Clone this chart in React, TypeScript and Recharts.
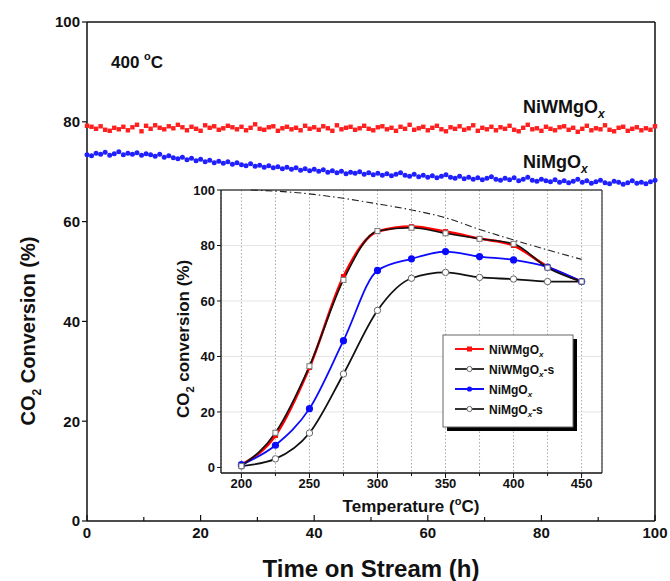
import React from 'react';
import { ComposedChart, Line, XAxis, YAxis, ReferenceLine, CartesianGrid } from 'recharts';

const FONT = '"Liberation Sans", Arial, Helvetica, sans-serif';

// main panel: conversion vs time on stream at 400 C (one point every STEP hours)
const STEP = 0.8;
const niwmgoStream = [
  79.2, 79.0, 78.6, 79.1, 78.4, 78.2, 78.8, 78.5, 79.0, 78.3,
  78.9, 79.4, 78.1, 79.2, 78.6, 79.3, 78.8, 78.5, 79.1, 78.7,
  79.4, 78.9, 78.3, 79.0, 78.6, 78.2, 79.3, 78.8, 79.1, 78.4,
  78.7, 79.2, 78.9, 78.5, 79.0, 78.3, 78.8, 79.5, 78.6, 78.4,
  78.9, 79.1, 78.2, 78.7, 79.0, 78.5, 78.8, 78.3, 79.2, 78.6,
  78.9, 78.4, 79.1, 78.7, 78.2, 79.3, 78.5, 78.8, 79.0, 78.4,
  78.7, 79.2, 78.6, 78.3, 78.9, 79.1, 78.5, 78.8, 78.2, 79.0,
  78.6, 79.4, 78.4, 78.7, 79.0, 78.3, 78.8, 79.2, 78.5, 78.1,
  78.9, 78.6, 79.1, 78.4, 78.7, 79.3, 78.2, 78.8, 78.5, 79.0,
  78.3, 78.9, 78.6, 79.2, 78.4, 78.1, 78.8, 79.4, 78.5, 78.7,
  78.2, 79.0, 78.6, 78.3, 78.9, 79.1, 78.4, 78.8, 78.0, 78.6,
  79.2, 78.3, 78.7, 78.5, 79.3, 78.4, 78.1, 78.8, 79.0, 78.2,
  78.6, 78.9, 78.3, 78.7, 78.4, 79.1,
];
const nimgoStream = [
  73.4, 73.2, 73.7, 73.5, 73.9, 73.3, 73.6, 74.0, 73.4, 73.7,
  73.5, 73.8, 73.3, 73.6, 73.4, 73.1, 73.5, 72.9, 73.2, 72.8,
  72.6, 72.9, 72.4, 72.7, 72.2, 72.5, 72.0, 72.3, 71.8, 72.1,
  71.7, 72.0, 71.5, 71.8, 71.4, 71.2, 71.6, 71.1, 71.3, 70.9,
  71.2, 70.8, 71.0, 70.6, 70.9, 70.5, 70.8, 70.3, 70.6, 70.2,
  70.5, 70.1, 70.4, 69.9, 70.2, 69.8, 70.1, 69.6, 69.9, 69.7,
  70.0, 69.5, 69.8, 69.4, 69.7, 69.3, 69.6, 69.2, 69.5, 69.8,
  69.3, 69.1, 69.5, 69.0, 69.3, 68.9, 69.2, 68.8, 69.1, 69.4,
  68.9, 68.7, 69.1, 68.6, 68.9, 68.5, 68.8, 68.4, 68.7, 69.0,
  68.5, 68.3, 68.7, 68.4, 68.8, 68.2, 68.5, 68.9, 68.3, 68.1,
  68.5, 68.2, 68.0, 68.4, 67.9, 68.2, 67.8, 68.1, 68.5, 67.9,
  68.2, 67.7, 68.0, 68.3, 67.8, 67.6, 68.1, 67.9, 67.5, 67.8,
  68.2, 67.7, 67.9, 67.6, 68.0, 68.3,
];
const mainXTicks = [0, 10, 20, 30, 40, 50, 60, 70, 80, 90, 100];
const mainYTicks = [0, 20, 40, 60, 80, 100];

// inset: conversion vs temperature
const temps = [200, 225, 250, 275, 300, 325, 350, 375, 400, 425, 450];
const niwmgo = [1, 11.5, 36, 68.8, 85, 86.8, 85, 82.5, 80, 72.4, 67];
const niwmgoS = [0.5, 12.5, 36.5, 67.6, 85.2, 86.4, 84.4, 82.4, 80.6, 72, 67];
const nimgo = [1, 8, 21.2, 45.7, 71, 75.2, 77.8, 76, 74.8, 72.2, 67];
const nimgoS = [0.5, 3.1, 12.4, 33.7, 56.6, 68.2, 70.3, 68.5, 67.9, 67, 67];
const eqTemps = [207, 225, 250, 275, 300, 325, 350, 375, 400, 425, 450];
const eqConv = [100, 99.6, 98.6, 97, 95, 92.8, 90, 85.8, 82, 78.4, 75];
const insetXTicks = [200, 225, 250, 275, 300, 325, 350, 375, 400, 425, 450];
const insetYTicks = [0, 20, 40, 60, 80, 100];

const mainRows = niwmgoStream.map((v, i) => ({ t: i * STEP, red: v, blue: nimgoStream[i] }));
const insetRows = temps.map((T, i) => ({ T, a: niwmgo[i], b: niwmgoS[i], c: nimgo[i], d: nimgoS[i] }));
const eqRows = eqTemps.map((T, i) => ({ T, eq: eqConv[i] }));

const INK = '#111';

const squareDot = (fill: string, s: number, stroke?: string) => (p: any) => {
  if (p.cx == null || p.cy == null) return <g key={p.index} />;
  return (
    <rect key={p.index} x={p.cx - s / 2} y={p.cy - s / 2} width={s} height={s}
      fill={fill} stroke={stroke || 'none'} strokeWidth={1} />
  );
};
const circleDot = (fill: string, r: number, stroke?: string) => (p: any) => {
  if (p.cx == null || p.cy == null) return <g key={p.index} />;
  return <circle key={p.index} cx={p.cx} cy={p.cy} r={r} fill={fill} stroke={stroke || 'none'} strokeWidth={1} />;
};

const MainXTick = (p: any) => {
  const v = p.payload.value;
  const major = v % 20 === 0;
  return (
    <g>
      <line x1={p.x} x2={p.x} y1={p.y} y2={p.y - (major ? 6 : 4)} stroke={INK} strokeWidth={1.2} />
      {major && (
        <text x={p.x} y={p.y + 17} textAnchor="middle" fontSize={15} fontWeight={700} fill={INK} fontFamily={FONT}>
          {v}
        </text>
      )}
    </g>
  );
};

const InsetXTick = (p: any) => {
  const v = p.payload.value;
  const major = v % 50 === 0;
  return (
    <g>
      <line x1={p.x} x2={p.x} y1={p.y} y2={p.y + (major ? 5 : 3)} stroke={INK} strokeWidth={1} />
      {major && (
        <text x={p.x} y={p.y + 15} textAnchor="middle" fontSize={13} fontWeight={700} fill={INK} fontFamily={FONT}>
          {v}
        </text>
      )}
    </g>
  );
};

const Sub = ({ children, size, dy }: { children: string; size: number; dy: number }) => (
  <tspan fontSize={size} dy={dy}>{children}</tspan>
);

const legendItems = [
  { name: 'NiWMgO', tail: '', color: '#ff1010', marker: 'sq', fill: '#ff1010' },
  { name: 'NiWMgO', tail: '-s', color: '#333', marker: 'ci', fill: '#fff' },
  { name: 'NiMgO', tail: '', color: '#1010ff', marker: 'ci', fill: '#1010ff' },
  { name: 'NiMgO', tail: '-s', color: '#333', marker: 'ci', fill: '#fff' },
];

export default function App() {
  return (
    <div style={{ position: 'absolute', left: 0, top: 0, width: 670, height: 581, background: '#fff' }}>
      <div style={{ position: 'absolute', left: 0, top: 0 }}>
        <ComposedChart width={670} height={581} data={mainRows} margin={{ top: 22, right: 15, left: 0, bottom: 30 }}>
          <XAxis type="number" dataKey="t" domain={[0, 100]} ticks={mainXTicks} interval={0}
            tickLine={false} tickSize={0} tickMargin={0} tick={MainXTick} height={30}
            axisLine={{ stroke: INK, strokeWidth: 1.5 }} />
          <YAxis type="number" domain={[0, 100]} ticks={mainYTicks} interval={0} width={87}
            tickSize={5} tickLine={{ stroke: INK, strokeWidth: 1.2 }} axisLine={{ stroke: INK, strokeWidth: 1.5 }}
            tick={{ fontSize: 15, fontWeight: 700, fill: INK, fontFamily: FONT }} />
          <ReferenceLine y={100} stroke={INK} strokeWidth={1.5} />
          <ReferenceLine x={100} stroke={INK} strokeWidth={1.5} />
          <Line dataKey="red" stroke="none" dot={squareDot('#ff1f1f', 4.4)} activeDot={false} isAnimationActive={false} />
          <Line dataKey="blue" stroke="none" dot={circleDot('#1f1fff', 2.5)} activeDot={false} isAnimationActive={false} />
        </ComposedChart>
      </div>

      <div style={{ position: 'absolute', left: 150, top: 180 }}>
        <ComposedChart width={460} height={330} data={insetRows} margin={{ top: 10, right: 8, left: 0, bottom: 7 }}>
          <CartesianGrid horizontal={false} stroke="#aaa" strokeDasharray="1.5 2" />
          {[20, 40, 60, 80].map((v) => (
            <ReferenceLine key={v} y={v} stroke="#e4e4e4" strokeWidth={1} />
          ))}
          <XAxis type="number" dataKey="T" domain={[185, 465]} ticks={insetXTicks} interval={0}
            tickLine={false} tickSize={0} tickMargin={0} tick={InsetXTick} height={30}
            axisLine={{ stroke: INK, strokeWidth: 1.3 }} />
          <YAxis type="number" domain={[-2, 100]} ticks={insetYTicks} interval={0} width={71}
            tickSize={4} tickLine={{ stroke: INK }} axisLine={{ stroke: INK, strokeWidth: 1.3 }}
            tick={{ fontSize: 13, fontWeight: 700, fill: INK, fontFamily: FONT }} />
          <ReferenceLine y={100} stroke="#444" strokeWidth={1.3} />
          <ReferenceLine x={465} stroke="#444" strokeWidth={1.3} />
          <Line data={eqRows} dataKey="eq" type="monotone" stroke="#222" strokeWidth={1.1}
            strokeDasharray="7 3 1.5 3" dot={false} activeDot={false} isAnimationActive={false} />
          <Line dataKey="a" type="monotone" stroke="#ff0000" strokeWidth={2.6}
            dot={squareDot('#ff0000', 5)} activeDot={false} isAnimationActive={false} />
          <Line dataKey="d" type="monotone" stroke={INK} strokeWidth={1.8}
            dot={circleDot('#fff', 3.2, '#666')} activeDot={false} isAnimationActive={false} />
          <Line dataKey="c" type="monotone" stroke="#0a0aff" strokeWidth={1.8}
            dot={circleDot('#0a0aff', 3.6)} activeDot={false} isAnimationActive={false} />
          <Line dataKey="b" type="monotone" stroke={INK} strokeWidth={1.6}
            dot={squareDot('#fff', 5, '#777')} activeDot={false} isAnimationActive={false} />
        </ComposedChart>
      </div>

      <svg width={670} height={581} style={{ position: 'absolute', left: 0, top: 0, pointerEvents: 'none' }}
        fontFamily={FONT} fontWeight={700} fill={INK}>
        <text x={111} y={68} fontSize={17}>
          400 <tspan fontSize={11} dy={-8}>o</tspan><tspan dy={8}>C</tspan>
        </text>
        <text x={523} y={113} fontSize={18}>
          NiWMgO<tspan fontSize={12} fontStyle="italic" dy={5}>x</tspan>
        </text>
        <text x={523} y={168} fontSize={18}>
          NiMgO<tspan fontSize={12} fontStyle="italic" dy={5}>x</tspan>
        </text>

        <text x={371} y={577} fontSize={24} textAnchor="middle">Time on Stream (h)</text>
        <text transform="translate(35 331) rotate(-90)" fontSize={20} textAnchor="middle">
          CO<Sub size={12} dy={6}>2</Sub><tspan dy={-6}> Conversion (%)</tspan>
        </text>

        <text x={411} y={512} fontSize={17} textAnchor="middle">
          Temperature (<tspan fontSize={11} dy={-7}>o</tspan><tspan dy={7}>C)</tspan>
        </text>
        <text transform="translate(189 339) rotate(-90)" fontSize={17} textAnchor="middle">
          CO<Sub size={11} dy={5}>2</Sub><tspan dy={-5}> conversion (%)</tspan>
        </text>

        <rect x={447} y={339} width={130} height={92} fill="#000" />
        <rect x={443} y={335} width={130} height={92} fill="#fff" stroke="#666" strokeWidth={1} />
        {legendItems.map((it, i) => {
          const cy = 349 + i * 20;
          return (
            <g key={i}>
              <line x1={455} x2={484} y1={cy} y2={cy} stroke={it.color} strokeWidth={2} />
              {it.marker === 'sq' ? (
                <rect x={467} y={cy - 2.5} width={5} height={5} fill={it.fill} />
              ) : (
                <circle cx={469.5} cy={cy} r={2.6} fill={it.fill} stroke={it.fill === '#fff' ? '#666' : 'none'} />
              )}
              <text x={489} y={cy + 4.5} fontSize={12}>
                {it.name}
                <tspan fontSize={8} fontStyle="italic" dy={3}>x</tspan>
                {it.tail ? <tspan dy={-3}>{it.tail}</tspan> : null}
              </text>
            </g>
          );
        })}
      </svg>
    </div>
  );
}
